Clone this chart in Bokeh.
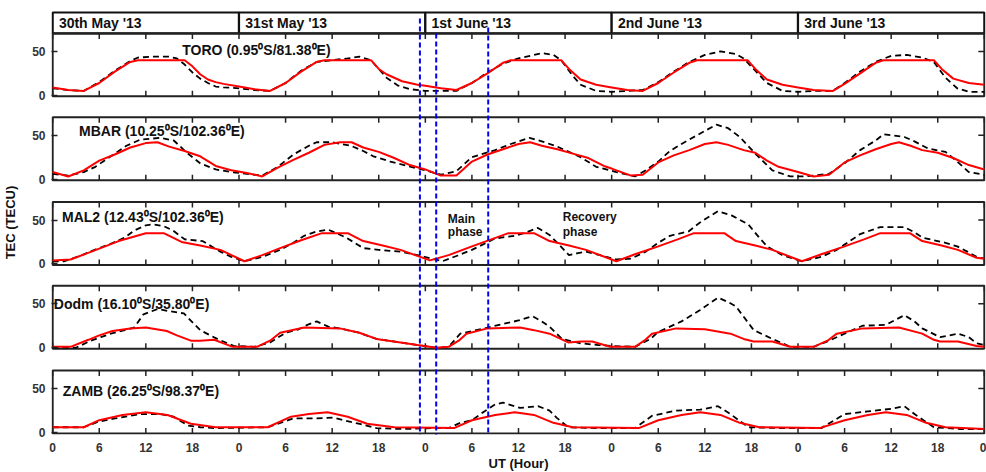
from bokeh.plotting import figure
from bokeh.models import Range1d, FixedTicker, CustomJSTickFormatter
from bokeh.core.properties import value
from bokeh.embed import file_html
from bokeh.resources import INLINE

# ---------------- data ----------------
day_labels = ["30th May '13", "31st May '13", "1st June '13", "2nd June '13", "3rd June '13"]
station_labels = ["TORO (0.95\u2070S/81.38\u2070E)", "MBAR (10.25\u2070S/102.36\u2070E)",
                  "MAL2 (12.43\u2070S/102.36\u2070E)", "Dodm (16.10\u2070S/35.80\u2070E)",
                  "ZAMB (26.25\u2070S/98.37\u2070E)"]
storm_hours = [47.3, 49.4, 56.1]
hour_ticks = list(range(0, 121, 6))
tec_ticks = [0, 50]

toro_model_hour = [0, 2, 4, 6, 8, 10, 11, 14, 17, 18, 19, 20, 21, 22, 24, 26, 28, 30, 32, 34, 35, 38, 41, 42, 43, 45, 47, 48,
                   50, 52, 54, 56, 58, 59, 62, 65.5, 66.5, 68, 70, 72, 74, 76, 78, 80, 82, 83, 86, 89.5, 90.5, 92, 94, 96,
                   98, 100.5, 102, 104, 106, 107, 110, 113.5, 114.5, 116, 118, 120]
toro_model_tec = [9, 6, 5, 14, 27, 38, 40, 40, 40, 33, 24, 18, 15, 13, 10, 7, 5, 14, 27, 38, 40, 40, 40, 30, 24, 16, 12, 11,
                  8, 6, 14, 25, 37, 40, 40, 40, 30, 18, 12, 9, 6, 5, 14, 26, 37, 40, 40, 40, 30, 18, 12, 9,
                  6, 5, 13, 25, 37, 40, 40, 40, 30, 19, 14, 12]
toro_obs_hour = [0, 2, 4, 6, 8, 10, 11, 13, 15, 16, 17, 18, 19, 20, 21, 22, 24, 26, 28, 30, 32, 34, 36, 38, 39.5, 41, 42, 43,
                 44.5, 46, 48, 50, 52, 54, 56, 58, 60, 62, 63, 64.5, 65.5, 67, 68, 70, 72, 74, 76, 78, 80, 82, 84, 86, 88,
                 89, 90.5, 92, 94, 96, 98, 100.5, 102, 104, 106, 108, 110, 112, 113.5, 115, 116.5, 118, 120]
toro_obs_tec = [8, 6, 5, 15, 28, 39, 43, 44, 44, 42, 35, 26, 19, 14, 10, 9, 8, 6, 5, 14, 28, 38, 40, 42, 44, 40, 30, 20,
                11, 7, 5, 5, 5, 14, 26, 36, 42, 46, 48, 46, 40, 22, 12, 5, 4, 5, 6, 15, 27, 38, 46, 50, 47,
                42, 28, 14, 5, 4, 5, 5, 14, 27, 38, 45, 46, 43, 38, 20, 8, 4, 4]

mbar_model_hour = [0, 2, 4, 6, 8, 10, 12, 13.5, 15, 17, 19, 21, 23, 25, 27, 29, 31, 33, 35, 37, 38.5, 40, 42, 44, 46, 48,
                   50, 52, 54, 56, 58, 60, 61.5, 63, 65, 67, 69, 71, 72, 74.5, 76, 78, 80, 82, 84, 85.5, 87, 89, 90.5, 92,
                   93.5, 96, 98, 100, 102, 104, 106, 108, 109, 110.5, 112, 114, 116, 118, 120]
mbar_model_tec = [8, 3, 10, 21, 28, 36, 41, 42, 37, 32, 26, 15, 10, 7, 3, 13, 22, 30, 39, 42, 42, 36, 31, 24, 16, 11,
                  4, 4, 20, 28, 34, 40, 42, 38, 34, 29, 24, 15, 12, 4, 5, 19, 27, 33, 40, 42, 39, 33, 30, 21,
                  14, 8, 3, 5, 19, 27, 34, 40, 42, 38, 33, 30, 24, 16, 11]
mbar_obs_hour = [0, 2, 4, 5.5, 7.5, 9.5, 11.3, 13.9, 15.6, 17.3, 19, 21, 23, 25, 27, 29, 31, 33, 34, 36, 38.4, 40, 41.3,
                 43.5, 45.7, 48, 50, 52, 54, 57, 59, 61.4, 63, 65, 68, 70, 72.6, 75, 76.4, 78, 79.5, 81, 83, 85.5, 87,
                 88.5, 90.5, 92.7, 95, 96.5, 98, 100, 102, 104, 106, 107, 109.7, 111, 112.7, 115, 116.5, 118, 120]
mbar_obs_tec = [6, 4, 8, 14, 26, 38, 45, 47, 44, 30, 18, 11, 8, 6, 4, 14, 28, 38, 42, 42, 38, 32, 26,
                20, 15, 10, 5, 9, 25, 33, 40, 47, 43, 37, 25, 14, 8, 3, 10, 20, 32, 40, 50, 62, 58,
                48, 29, 10, 3, 3, 4, 6, 18, 33, 44, 51, 48, 43, 35, 31, 20, 8, 5]

mal2_model_hour = [0, 2.3, 5, 8.5, 12, 14.3, 16.6, 19, 21.6, 24.7, 27, 29.3, 32, 34.7, 38, 40, 42.5, 44.8, 48.6, 51, 54,
                   56.5, 58.7, 62, 64, 66.5, 68.7, 72.6, 75, 78, 80.5, 82.6, 86.5, 88, 90.5, 92.7, 96.5, 99, 102, 104.5,
                   106.6, 110.4, 112, 114.5, 116.6, 119, 120]
mal2_model_tec = [4, 5, 14, 26, 35, 35, 25, 21, 16, 3, 10, 18, 27, 35, 35, 26, 21, 16, 4, 10, 20,
                  28, 35, 35, 26, 21, 16, 3, 11, 20, 28, 35, 35, 26, 21, 16, 3, 11, 20, 28,
                  35, 35, 26, 21, 16, 7, 6]
mal2_obs_hour = [0, 1.5, 3.5, 5.4, 7.5, 9.3, 10.5, 12, 13, 14.3, 15.5, 17, 19.3, 21.6, 23, 24.7, 27, 29.3, 31, 32.4, 34,
                 35.5, 37.8, 40, 42, 44.8, 46.5, 47.9, 50.2, 52, 54, 57, 59.5, 61, 62.5, 64, 65, 66.5, 67.5, 68.7, 70.5,
                 72.6, 74.5, 76.4, 78, 79.5, 81.9, 83.5, 85.7, 87.5, 89.6, 91, 92, 94, 96.5, 99, 101, 102.5, 104, 106.6,
                 109.7, 111, 112, 113.5, 115, 116.5, 117.8, 119, 120]
mal2_obs_tec = [3, 3, 9, 16, 23, 30, 38, 44, 45, 43, 38, 28, 26, 14, 8, 3, 8, 16, 24, 32, 37,
                39, 30, 18, 16, 14, 11, 8, 3, 9, 16, 29, 32, 36, 41, 33, 24, 10, 12, 14, 10,
                5, 6, 14, 24, 32, 37, 48, 60, 55, 45, 30, 20, 10, 3, 8, 16, 25, 34, 42,
                42, 36, 30, 27, 24, 20, 14, 8, 6]

dodm_model_hour = [0, 2.3, 4.6, 6, 7.7, 10, 12, 14.7, 16, 17.8, 19, 20.8, 22, 23.2, 26.3, 28, 29.3, 32.4, 37, 39.5, 41.7,
                   44.8, 47, 49.4, 51, 52.3, 53.3, 56, 60.2, 62, 64, 66.4, 68, 69.5, 71.8, 75, 76.2, 77.2, 80.3, 84, 87.3,
                   89, 90.3, 92.7, 95, 98, 99.8, 101, 104.3, 109, 112, 113.5, 114.3, 116.6, 119, 120]
dodm_model_tec = [1, 1, 9, 14, 19, 22, 23, 19, 14, 8, 8, 9, 5, 1, 1, 8, 17, 23, 22, 17, 10,
                  6, 3, 0, 1, 8, 16, 22, 23, 20, 16, 6, 7, 7, 1, 1, 8, 16, 22, 21, 16,
                  10, 7, 7, 1, 1, 8, 16, 22, 23, 16, 9, 7, 7, 2, 1]
dodm_obs_hour = [0, 3, 4.9, 6.2, 7.5, 9.3, 10.5, 11.7, 13.5, 14.8, 16.9, 19, 21.2, 23.3, 26, 28, 30, 31.7, 32.8, 34, 35.5,
                 37, 39.5, 41.7, 44.8, 47, 49.4, 51, 52.5, 55.6, 58, 60, 61.8, 63, 64, 65.6, 68, 70.3, 72, 75, 77, 78, 81,
                 83.4, 85.7, 87, 88, 90.3, 92.7, 95, 98, 100, 102, 104.3, 107.3, 109.7, 111, 112, 114.3, 116.6, 118, 119,
                 120]
dodm_obs_tec = [0, 0, 8, 12, 16, 20, 23, 38, 44, 42, 39, 20, 10, 2, 1, 6, 17, 21, 26, 30, 24,
                22, 17, 10, 6, 3, 0, 1, 16, 22, 27, 31, 36, 30, 24, 10, 5, 3, 2, 1, 10, 18, 30,
                43, 57, 52, 47, 20, 10, 1, 1, 8, 16, 25, 26, 37, 30, 22, 12, 16, 12, 5,
                3]

zamb_model_hour = [0, 4, 6, 9, 12, 14.8, 17.8, 21, 27.7, 30.7, 33, 35.4, 38, 40.5, 44, 51.7, 54, 57, 59.5, 62, 64.5, 67,
                   75.5, 78, 81, 83.4, 86, 88.5, 91, 98.8, 102, 105, 107.3, 110, 112.5, 115, 120]
zamb_model_tec = [6, 6, 14, 20, 23, 20, 10, 6, 6, 18, 21, 23, 18, 10, 6, 5, 14, 20, 23, 20, 11, 6,
                  5, 14, 20, 23, 20, 11, 6, 5, 14, 20, 23, 20, 11, 6, 4]
zamb_obs_hour = [0, 4, 5.8, 8, 11.3, 13.9, 15.6, 17.4, 19, 21, 27.7, 31, 33.9, 36.2, 38.4, 39.4, 41.7, 45, 49, 51, 52.5,
                 54, 55.6, 57, 58, 60.2, 62.5, 64, 64.9, 66.4, 70, 75, 77.2, 80.3, 83.4, 85.7, 87.3, 89.6, 94, 99, 102,
                 105, 108, 109.7, 111, 113.5, 117, 120]
zamb_obs_tec = [6, 6, 12, 16, 21, 21, 18, 8, 6, 5, 6, 16, 16, 17, 12, 10, 5, 4, 5, 5, 11,
                14, 24, 32, 34, 28, 30, 25, 17, 6, 5, 5, 19, 25, 26, 30, 21, 6, 5, 5, 21,
                24, 27, 30, 21, 6, 4, 4]

model_hours = [toro_model_hour, mbar_model_hour, mal2_model_hour, dodm_model_hour, zamb_model_hour]
model_tecs = [toro_model_tec, mbar_model_tec, mal2_model_tec, dodm_model_tec, zamb_model_tec]
obs_hours = [toro_obs_hour, mbar_obs_hour, mal2_obs_hour, dodm_obs_hour, zamb_obs_hour]
obs_tecs = [toro_obs_tec, mbar_obs_tec, mal2_obs_tec, dodm_obs_tec, zamb_obs_tec]

# ---------------- layout ----------------
FONT = value("Liberation Sans")
FIG_TOP = 1                       # where the figure's top edge lands in the picture
W, H = 986, 473
BL, BR, BT, BB = 47, 1, 10, 38    # figure borders
FR_TOP = FIG_TOP + BT             # frame extent in picture pixels (main y = -pixel)
FR_BOT = FIG_TOP + H - BB
ZEROS = [96, 180, 265, 349, 434]  # picture pixel of TEC = 0 in each panel
S = 0.88                          # pixels per TECU
VBOT, VTOP = -1.2, 70.5           # TEC extent of a panel box

p = figure(width=W, height=H, output_backend="svg", toolbar_location=None,
           x_range=Range1d(-0.15, 120.15), y_range=Range1d(-FR_BOT, -FR_TOP),
           min_border_left=BL, min_border_right=BR, min_border_top=BT, min_border_bottom=BB)
p.outline_line_color = None
p.grid.visible = False
p.background_fill_color = "white"

for k, z in enumerate(ZEROS):
    p.extra_y_ranges[f"p{k}"] = Range1d(start=(z - FR_BOT) / S, end=(z - FR_TOP) / S)

# axes
xa = p.xaxis[0]
xa.ticker = FixedTicker(ticks=hour_ticks)
xa.formatter = CustomJSTickFormatter(code="return String(Math.round(tick) % 24);")
xa.major_tick_in = 0
xa.major_tick_out = 0
xa.minor_tick_line_color = None
xa.axis_line_color = None
xa.major_label_standoff = 8
xa.axis_label = "UT (Hour)"
xa.axis_label_standoff = 1

ya = p.yaxis[0]
ytick_pos = []
for z in ZEROS:
    for t in tec_ticks:
        ytick_pos.append(-(z - t * S))
ya.ticker = FixedTicker(ticks=ytick_pos)
ya.formatter = CustomJSTickFormatter(args=dict(zeros=ZEROS, s=S), code="""
for (let i = 0; i < zeros.length; i++) {
  const v = (tick + zeros[i]) / s;
  if (Math.abs(v) < 0.5) return '0';
  if (Math.abs(v - 50) < 0.5) return '50';
}
return '';
""")
ya.major_tick_in = 6
ya.major_tick_out = 0
ya.major_tick_line_width = 1.5
ya.major_tick_line_color = "#222222"
ya.minor_tick_line_color = None
ya.axis_line_color = None
ya.major_label_standoff = 6
ya.axis_label = "TEC (TECU)"
ya.axis_label_standoff = 11

for ax in (xa, ya):
    ax.major_label_text_font = "Liberation Sans"
    ax.major_label_text_font_style = "bold"
    ax.major_label_text_font_size = "12px"
    ax.major_label_text_color = "#333333"
    ax.axis_label_text_font = "Liberation Sans"
    ax.axis_label_text_font_style = "bold"
    ax.axis_label_text_font_size = "13px"
    ax.axis_label_text_color = "#111111"

# header
hdr_top, hdr_bot = -13, -(ZEROS[0] - VTOP * S)
for d, lab in enumerate(day_labels):
    p.quad(left=d * 24, right=(d + 1) * 24, bottom=hdr_bot, top=hdr_top,
           fill_color="white", line_color="#111111", line_width=2.2)
    p.text(x=[d * 24 + 0.8], y=[(hdr_top + hdr_bot) / 2], text=[lab], text_font=FONT,
           text_font_style="bold", text_font_size="14px", text_baseline="middle",
           text_align="left", text_color="#111111")

label_pos = [(16.7, 52), (3.4, 55), (1.2, 53), (0.15, 50), (1.3, 47)]

for k in range(5):
    rn = f"p{k}"
    p.quad(left=0, right=120, bottom=VBOT, top=VTOP, fill_color=None,
           line_color="#222222", line_width=2, y_range_name=rn)
    tl = 5.5 / S
    p.segment(x0=hour_ticks, x1=hour_ticks, y0=[VBOT] * len(hour_ticks), y1=[VBOT + tl] * len(hour_ticks),
              line_color="#222222", line_width=1.5, y_range_name=rn)
    p.segment(x0=hour_ticks, x1=hour_ticks, y0=[VTOP] * len(hour_ticks), y1=[VTOP - tl] * len(hour_ticks),
              line_color="#222222", line_width=1.5, y_range_name=rn)
    p.segment(x0=[120 - 6 / 7.7], x1=[120], y0=[50], y1=[50], line_color="#222222",
              line_width=1.5, y_range_name=rn)
    p.line(obs_hours[k], obs_tecs[k], line_color="black", line_width=1.8, line_dash="6 4",
           y_range_name=rn)
    p.line(model_hours[k], model_tecs[k], line_color="#ff0000", line_width=2, y_range_name=rn)
    lx, ly = label_pos[k]
    p.text(x=[lx], y=[ly], text=[station_labels[k]], text_font=FONT, text_font_style="bold",
           text_font_size="14px", text_baseline="middle", text_align="left", text_color="#111111",
           y_range_name=rn)

for tx, ty, tt in [(50.9, 51, "Main"), (50.9, 36, "phase"), (65.7, 53, "Recovery"), (65.7, 36, "phase")]:
    p.text(x=[tx], y=[ty], text=[tt], text_font=FONT, text_font_style="bold", text_font_size="12px",
           text_baseline="middle", text_align="left", text_color="#111111", y_range_name="p2")

line_tops = [-19, -34, -28]
p.segment(x0=storm_hours, x1=storm_hours, y0=line_tops, y1=[-(ZEROS[-1] + 6)] * 3,
          line_color="#0000ee", line_width=2, line_dash="5 3")

open("out.html", "w").write(file_html(p, INLINE))
